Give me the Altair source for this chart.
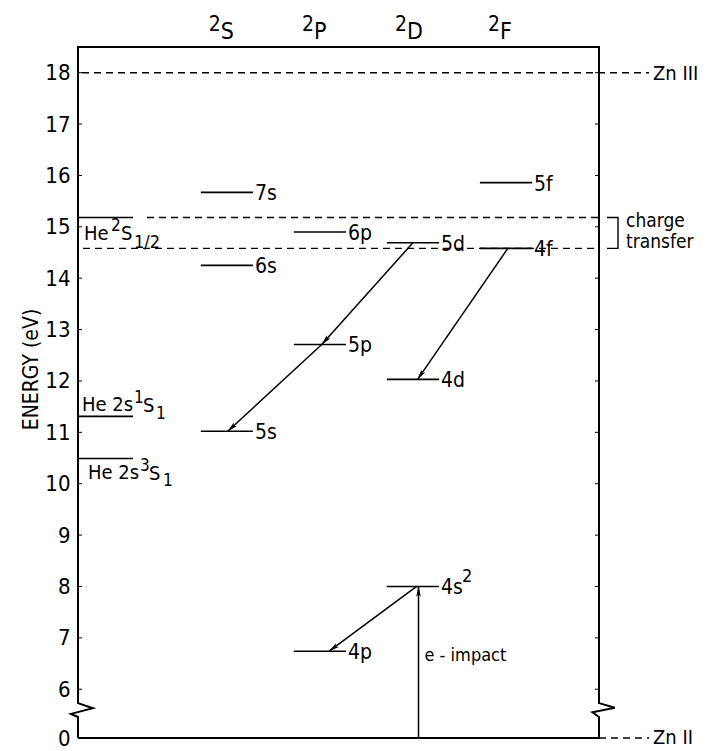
import math
import altair as alt
import pandas as pd

# ---------------- data ----------------
columns = ["S", "P", "D", "F"]          # term symbols 2S, 2P, 2D, 2F
col_pos = [1, 2, 3, 4]

level_names = ["7s", "6s", "5s", "6p", "5p", "4p", "5d", "4d", "4s", "4f", "5f"]
level_col = [1, 1, 1, 2, 2, 2, 3, 3, 3, 4, 4]
level_E = [15.67, 14.25, 11.02, 14.90, 12.71, 6.74, 14.69, 12.03, 8.00, 14.58, 15.86]
level_sup = ["", "", "", "", "", "", "", "", "2", "", ""]

he_E = [15.18, 11.31, 10.49]             # He 2S1/2, He 2s1S1, He 2s3S1
charge_hi, charge_lo = 15.18, 14.58
zn3_E, zn2_E = 18.0, 0.0

# transitions: start (column position, energy) -> end
arrow_from_u = [3.00, 2.02, 4.02, 3.04, 3.06]
arrow_from_E = [14.69, 12.71, 14.58, 8.00, 0.0]
arrow_to_u = [2.02, 1.01, 3.05, 2.10, 3.06]
arrow_to_E = [12.71, 11.02, 12.03, 6.74, 8.00]

tick_values = [0, 6, 7, 8, 9, 10, 11, 12, 13, 14, 15, 16, 17, 18]
inner_ticks = [6, 7, 8, 9, 10, 11, 12, 13, 14, 15, 16, 17, 18]

# ---------------- layout ----------------
W, H = 521, 691
X0, X1 = -0.6, 5.0
EBRK, ETOP = 5.07, 18.5
PXU = W / (X1 - X0)
PYU = H / (ETOP - EBRK)
HALF = 0.28
FONT = "DejaVu Sans Condensed, Liberation Sans Narrow, DejaVu Sans, sans-serif"


def ux(px):
    return px / PXU


def ue(py):
    return -py / PYU


def yp(E):
    return H if E <= 0 else H - (E - EBRK) * PYU


xs = alt.Scale(domain=[X0, X1], nice=False, zero=False)
ys = alt.Scale(domain=[0, EBRK, ETOP], range=[H, H - 1, 0], nice=False, zero=False)

y_axis = alt.Axis(
    values=tick_values, domain=False, ticks=False, grid=False, labelFontSize=22, labelFont=FONT,
    labelColor="black", labelPadding=8, labelOverlap=False, labelFlush=False,
    title="ENERGY (eV)", titleFont=FONT, titleFontSize=21, titleFontWeight="normal", titleColor="black",
    titleX=-47, titleY=322, titleAngle=270, titleBaseline="middle", titleAlign="center",
)


def X(f):
    return alt.X(f, type="quantitative", scale=xs, axis=None)


def Y(f):
    return alt.Y(f, type="quantitative", scale=ys, axis=y_axis)


# frame with broken axis (zig-zags)
fr = [
    (X0, 0), (X0, 5.46), (X0 - 0.075, 5.52), (X0 + 0.16, 5.63), (X0, 5.73), (X0, ETOP),
    (X1, ETOP), (X1, 5.73), (X1 + 0.17, 5.64), (X1 - 0.07, 5.55), (X1, 5.46), (X1, 0), (X0, 0),
]
frame_df = pd.DataFrame({"u": [p[0] for p in fr], "E": [p[1] for p in fr], "o": list(range(len(fr)))})

# solid level segments
solid = pd.DataFrame({
    "u1": [c - HALF for c in level_col] + [X0] * 3,
    "u2": [c + HALF for c in level_col] + [X0 + ux(55)] * 3,
    "E": level_E + he_E,
})

dashed = pd.DataFrame({
    "u1": [X0 + ux(4), X0 + ux(69), X0 + ux(5), X1],
    "u2": [X1 + ux(50), X1, X1, X1 + ux(50)],
    "E": [zn3_E, charge_hi, charge_lo, zn2_E],
})

bracket_df = pd.DataFrame({
    "u": [X1 + ux(8), X1 + ux(19), X1 + ux(19), X1 + ux(8)],
    "E": [charge_hi, charge_hi, charge_lo, charge_lo],
    "o": [0, 1, 2, 3],
})

arrows = pd.DataFrame({"u1": arrow_from_u, "E1": arrow_from_E, "u2": arrow_to_u, "E2": arrow_to_E})
heads = []
for a, b, c, d in zip(arrow_from_u, arrow_from_E, arrow_to_u, arrow_to_E):
    dxp = (c - a) * PXU
    dyp = yp(d) - yp(b)
    L = math.hypot(dxp, dyp)
    ang = math.degrees(math.atan2(dxp, -dyp)) % 360
    back = 5.0
    heads.append({"u": c - ux(dxp / L * back), "E": d + (dyp / L * back) / PYU, "ang": ang})
heads_df = pd.DataFrame(heads)

# text pieces
rows = []


def add(u, E, text, size, dxp=0, dyp=0):
    rows.append({"u": u + ux(dxp), "E": E + ue(dyp), "text": text, "size": size})


for c, letter in zip(col_pos, columns):
    add(c, 18.8, "2", 21, dxp=-18, dyp=-7)
    add(c, 18.8, letter, 23, dxp=-6)

for name, c, E, sup in zip(level_names, level_col, level_E, level_sup):
    add(c + HALF, E, name, 21, dxp=2, dyp=2)
    if sup:
        add(c + HALF, E, sup, 18, dxp=23, dyp=-9)

# He labels
add(X0, he_E[0], "He", 20, dxp=6, dyp=16)
add(X0, he_E[0], "2", 17, dxp=33, dyp=8)
add(X0, he_E[0], "S", 20, dxp=43, dyp=16)
add(X0, he_E[0], "1/2", 18, dxp=56, dyp=25)

add(X0, he_E[1], "He 2s", 20, dxp=4, dyp=-11)
add(X0, he_E[1], "1", 17, dxp=56, dyp=-18)
add(X0, he_E[1], "S", 20, dxp=65, dyp=-10)
add(X0, he_E[1], "1", 17, dxp=78, dyp=-2)

add(X0, he_E[2], "He 2s", 20, dxp=10, dyp=14)
add(X0, he_E[2], "3", 17, dxp=62, dyp=7)
add(X0, he_E[2], "S", 20, dxp=71, dyp=15)
add(X0, he_E[2], "1", 17, dxp=85, dyp=22)

add(X1, zn3_E, "Zn III", 20, dxp=54, dyp=1)
add(X1, zn2_E, "Zn II", 20, dxp=54, dyp=-2)
add(X1, charge_hi, "charge", 19, dxp=27, dyp=3)
add(X1, charge_lo, "transfer", 19, dxp=27, dyp=-6)
add(arrow_from_u[4], 6.65, "e - impact", 18, dxp=6)

text_df = pd.DataFrame(rows)

# ---------------- chart ----------------
frame = alt.Chart(frame_df).mark_line(color="black", strokeWidth=2).encode(
    x=X("u"), y=Y("E"), order="o:Q")

ticks_l = alt.Chart(pd.DataFrame({"E": inner_ticks})).mark_rule(color="black", strokeWidth=1).encode(
    x=alt.value(0), x2=alt.value(4), y=Y("E"))
ticks_r = alt.Chart(pd.DataFrame({"E": inner_ticks})).mark_rule(color="black", strokeWidth=1).encode(
    x=alt.value(W - 4), x2=alt.value(W), y=Y("E"))

lev = alt.Chart(solid).mark_rule(color="black", strokeWidth=1.6).encode(x=X("u1"), x2="u2", y=Y("E"))
dash = alt.Chart(dashed).mark_rule(color="black", strokeWidth=1.4, strokeDash=[7, 5]).encode(
    x=X("u1"), x2="u2", y=Y("E"))
bracket = alt.Chart(bracket_df).mark_line(color="black", strokeWidth=1.4).encode(
    x=X("u"), y=Y("E"), order="o:Q")
arr = alt.Chart(arrows).mark_rule(color="black", strokeWidth=1.5).encode(
    x=X("u1"), x2="u2", y=Y("E1"), y2="E2")
hd = alt.Chart(heads_df).mark_point(
    shape="M0,-1L0.45,1L0,0.55L-0.45,1Z", filled=True, color="black", size=110, opacity=1).encode(
    x=X("u"), y=Y("E"), angle=alt.Angle("ang:Q", scale=None))
txt = alt.Chart(text_df).mark_text(align="left", baseline="middle", font=FONT, color="black").encode(
    x=X("u"), y=Y("E"), text="text:N", size=alt.Size("size:Q", scale=None, legend=None))

chart = alt.layer(frame, ticks_l, ticks_r, lev, dash, bracket, arr, hd, txt).properties(
    width=W, height=H,
    autosize=alt.AutoSizeParams(type="none"),
    padding={"left": 70, "top": 39, "right": 113, "bottom": 12},
    background="white",
).configure_view(stroke=None)

chart.save("out.html", embed_options={"renderer": "svg", "actions": False})
